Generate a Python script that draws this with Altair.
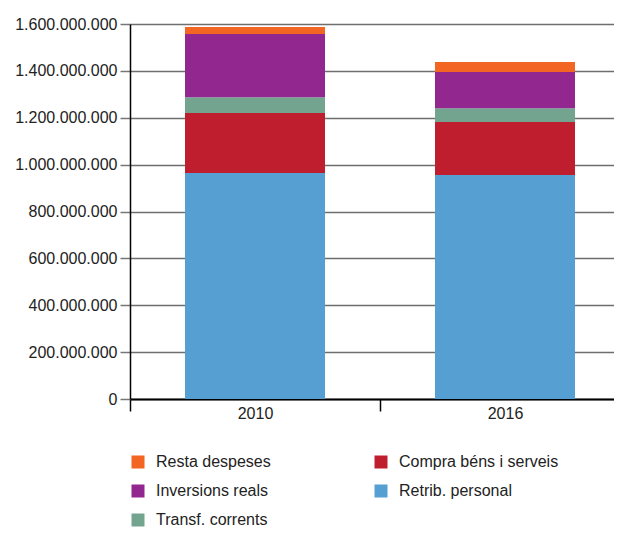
import altair as alt
import pandas as pd

years = ["2010", "2016"]
# stack order from bottom to top
stack_cats = ["Retrib. personal", "Compra béns i serveis", "Transf. corrents",
              "Inversions reals", "Resta despeses"]
vals_2010 = [964000000, 256000000, 68000000, 269000000, 30000000]
vals_2016 = [956000000, 226000000, 59000000, 154000000, 43000000]

# legend is filled column by column (2 columns)
legend_order = ["Resta despeses", "Inversions reals", "Transf. corrents",
                "Compra béns i serveis", "Retrib. personal"]
legend_colors = ["#F26522", "#92278F", "#72A490", "#BE1E2D", "#559FD3"]

y_ticks = [0, 200000000, 400000000, 600000000, 800000000, 1000000000,
           1200000000, 1400000000, 1600000000]

rows = []
for yr, vals in zip(years, [vals_2010, vals_2016]):
    for i, (c, v) in enumerate(zip(stack_cats, vals)):
        rows.append({"year": yr, "cat": c, "value": v, "ord": i})
df = pd.DataFrame(rows)

FONT = "Liberation Sans"

chart = alt.Chart(df).mark_bar(size=140).encode(
    x=alt.X("year:N", sort=years,
            scale=alt.Scale(paddingInner=0, paddingOuter=0),
            axis=alt.Axis(title=None, labelAngle=0, labelFontSize=16, labelFont=FONT,
                          labelColor="#222", domainColor="#000", domainWidth=2,
                          tickColor="#000", tickWidth=1.5, tickSize=12, tickBand="extent",
                          labelPadding=-6, grid=False)),
    y=alt.Y("value:Q", stack="zero",
            scale=alt.Scale(domain=[0, 1600000000], nice=False),
            axis=alt.Axis(title=None, values=y_ticks, format=",d", labelFontSize=16,
                          labelFont=FONT, labelColor="#222", domainColor="#000",
                          domainWidth=1.5, tickColor="#777", tickWidth=1.5, tickSize=10,
                          labelPadding=3, grid=True, gridColor="#6e6e6e", gridWidth=1.6)),
    color=alt.Color("cat:N",
                    scale=alt.Scale(domain=legend_order, range=legend_colors),
                    legend=alt.Legend(title=None, orient="none", legendX=0, legendY=430,
                                      columns=2, columnPadding=102, rowPadding=13,
                                      symbolType="square", symbolSize=169,
                                      symbolStrokeWidth=0, labelFontSize=16,
                                      labelFont=FONT, labelColor="#222", labelOffset=10,
                                      padding=0, labelLimit=300)),
    order=alt.Order("ord:Q", sort="ascending"),
).properties(
    width=500, height=375,
    autosize=alt.AutoSizeParams(type="none"),
    padding={"left": 122, "top": 16, "right": -16, "bottom": 129},
).configure_view(stroke=None).configure(
    locale={"number": {"decimal": ",", "thousands": ".", "grouping": [3],
                       "currency": ["", "€"]}}
)

chart.save("out.html", embed_options={"renderer": "svg", "actions": False})
